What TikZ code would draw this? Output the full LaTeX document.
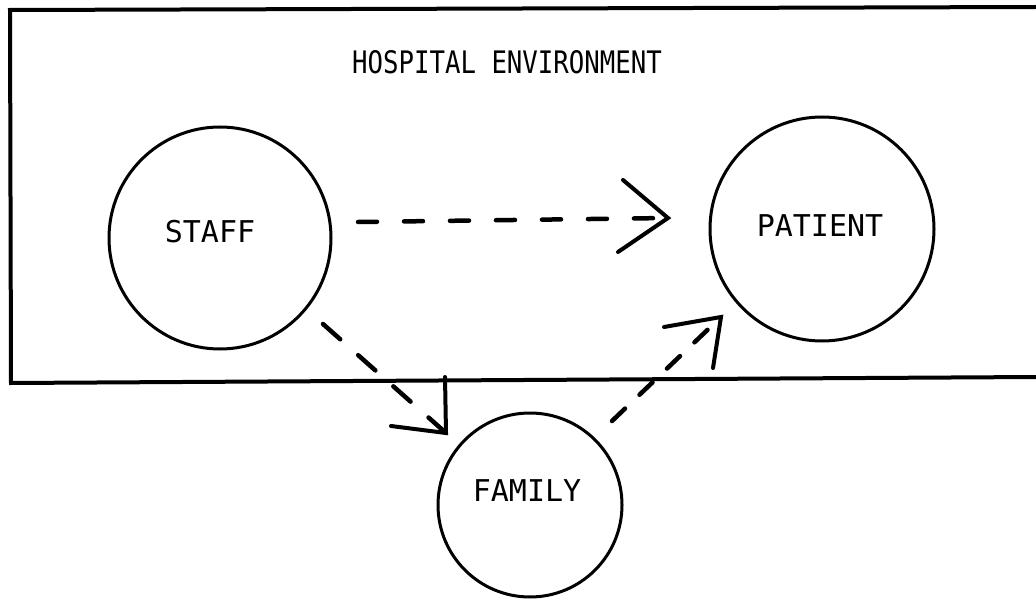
\documentclass[tikz,border=0pt]{standalone}
\usepackage{fontspec}
\newfontfamily\typew{DejaVu Sans Mono}
\begin{document}
\begin{tikzpicture}[x=1pt,y=-1pt,
  lab/.style={font=\typew\fontsize{30}{32}\selectfont,inner sep=0pt},
  ent/.style={circle,draw,line width=3pt,inner sep=0pt},
  dashline/.style={line width=4.5pt,line cap=round,dash pattern=on 19pt off 27pt},
  barb/.style={line width=4pt,line cap=round,line join=miter}]
\useasboundingbox (0,0) rectangle (1036,599);
% environment box (open on the right)
\draw[line width=4pt] (1036,7) -- (10,10) -- (11,383) -- (1036,377);
\node[lab,font=\typew\fontsize{31}{33}\selectfont] (env) at (507,62) {\scalebox{0.83}[1]{HOSPITAL ENVIRONMENT}};
% entities
\node[ent,minimum size=222pt] (staff) at (220,238) {};
\node[lab] (stafflab) at ([shift={(-10,-6)}]staff.center) {STAFF};
\node[ent,minimum size=224pt] (patient) at (822,229) {};
\node[lab] (patientlab) at ([shift={(-2,-3)}]patient.center) {PATIENT};
\node[ent,minimum size=184pt] (family) at (530,505) {};
\node[lab] (familylab) at ([shift={(-3,-14)}]family.center) {FAMILY};
% staff -> patient
\coordinate (s1) at (358,222);
\coordinate (t1) at (668,218);
\draw[dashline] (s1) -- (t1);
\draw[barb] (623,180) -- (t1) -- (618,252);
% staff -> family
\coordinate (s2) at (323,324);
\coordinate (t2) at (446,433);
\draw[dashline,dash pattern=on 23pt off 24pt] (s2) -- (t2);
\draw[barb] (445,377) -- (t2) -- (391,426);
% family -> patient
\coordinate (s3) at (612,421);
\coordinate (t3) at (721,317);
\draw[dashline,dash pattern=on 18pt off 20pt] (s3) -- (t3);
\draw[barb] (664,327) -- (t3) -- (713,368);
\end{tikzpicture}
\end{document}
